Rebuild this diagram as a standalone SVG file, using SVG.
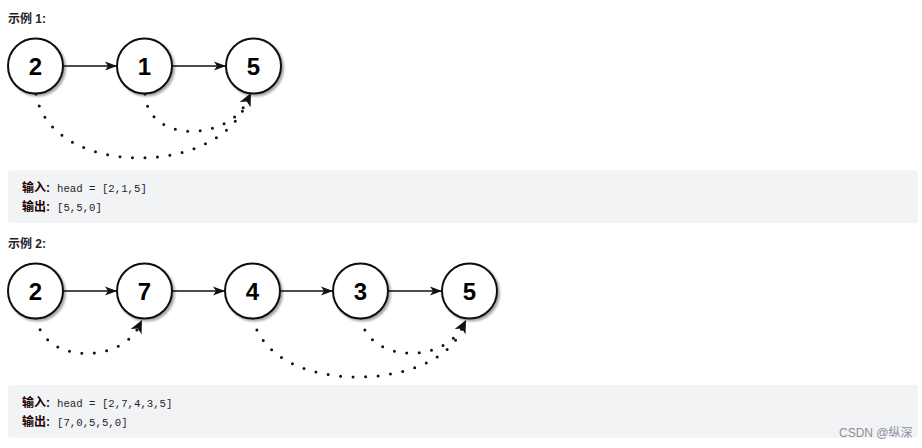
<svg xmlns="http://www.w3.org/2000/svg" width="922" height="448" viewBox="0 0 922 448">
<style>
.title{font-family:"Liberation Sans","Noto Sans CJK SC",sans-serif;font-size:12px;font-weight:bold;fill:#1f2329}
.node circle{fill:#fff;stroke:#111;stroke-width:2}
.node text{font-family:"Liberation Sans",Arial,sans-serif;font-size:24px;font-weight:bold;fill:#000;text-anchor:middle}
.link{stroke:#111;stroke-width:1.6;fill:none}
.dot{stroke:#111;stroke-width:3;fill:none;stroke-dasharray:0 12.5;stroke-linecap:round}
.box{fill:#f2f3f5}
.lbl{font-family:"Liberation Sans","Noto Sans CJK SC",sans-serif;font-size:12px;font-weight:bold;fill:#1a0000}
.code{font-family:"Liberation Mono","DejaVu Sans Mono",monospace;font-size:10.7px;fill:#1f2329}
.wm{font-family:"Liberation Sans","Noto Sans CJK SC",sans-serif;font-size:12px;fill:#8a8f99}
</style>
<defs>
<filter id="sh" x="-20%" y="-20%" width="150%" height="150%">
<feGaussianBlur in="SourceAlpha" stdDeviation="1.2"/>
<feOffset dx="2" dy="2" result="b"/>
<feComponentTransfer><feFuncA type="linear" slope="0.35"/></feComponentTransfer>
<feMerge><feMergeNode/><feMergeNode in="SourceGraphic"/></feMerge>
</filter>
<marker id="ah" markerUnits="userSpaceOnUse" markerWidth="12" markerHeight="10" refX="12" refY="5" orient="auto" viewBox="0 0 12 10">
<path d="M0,0.5 L12,5 L0,9.5 L3,5 z" fill="#111"/>
</marker>
<marker id="ah2" markerUnits="userSpaceOnUse" markerWidth="13" markerHeight="12" refX="13" refY="6" orient="auto" viewBox="0 0 13 12">
<path d="M0,0 L13,6 L0,12 L3.5,6 z" fill="#111"/>
</marker>
</defs>
<rect width="922" height="448" fill="#fff"/>
<text class="title" x="8" y="23">示例 1:</text>
<g id="connectors">
<line class="link" x1="63.5" y1="66" x2="117" y2="66" marker-end="url(#ah)"/>
<line class="link" x1="172" y1="66" x2="226" y2="66" marker-end="url(#ah)"/>
<path class="dot" d="M36,94 C50,178 220,178 247,101"/>
<path class="dot" d="M145,94 C148,145 230,140 247,101"/>
<path d="M247,101 L251,93" stroke="none" fill="none" marker-end="url(#ah2)"/>
<line class="link" x1="63.5" y1="291" x2="117" y2="291" marker-end="url(#ah)"/>
<line class="link" x1="172" y1="291" x2="225" y2="291" marker-end="url(#ah)"/>
<line class="link" x1="280" y1="291" x2="333" y2="291" marker-end="url(#ah)"/>
<line class="link" x1="388" y1="291" x2="442" y2="291" marker-end="url(#ah)"/>
<path class="dot" d="M36,318 C45,365 120,362 138,328"/>
<path d="M138,328 L142,320" stroke="none" fill="none" marker-end="url(#ah2)"/>
<path class="dot" d="M253,318 C270,398 440,392 462,328"/>
<path class="dot" d="M361,318 C368,362 440,364 462,328"/>
<path d="M462,328 L466,320" stroke="none" fill="none" marker-end="url(#ah2)"/>
</g>
<g id="n1-2" class="node"><circle cx="35.5" cy="66" r="27.5" filter="url(#sh)"/><text x="35.5" y="74.5">2</text></g>
<g id="n1-1" class="node"><circle cx="144.5" cy="66" r="27.5" filter="url(#sh)"/><text x="144.5" y="74.5">1</text></g>
<g id="n1-5" class="node"><circle cx="253.5" cy="66" r="27.5" filter="url(#sh)"/><text x="253.5" y="74.5">5</text></g>
<rect class="box" x="8" y="170" width="910" height="53" rx="4"/>
<text x="22" y="192"><tspan class="lbl">输入:</tspan><tspan class="code" x="57">head = [2,1,5]</tspan></text>
<text x="22" y="211"><tspan class="lbl">输出:</tspan><tspan class="code" x="57">[5,5,0]</tspan></text>
<text class="title" x="8" y="248">示例 2:</text>
<g id="n2-2" class="node"><circle cx="35.5" cy="291" r="27.5" filter="url(#sh)"/><text x="35.5" y="299.5">2</text></g>
<g id="n2-7" class="node"><circle cx="144.5" cy="291" r="27.5" filter="url(#sh)"/><text x="144.5" y="299.5">7</text></g>
<g id="n2-4" class="node"><circle cx="252.5" cy="291" r="27.5" filter="url(#sh)"/><text x="252.5" y="299.5">4</text></g>
<g id="n2-3" class="node"><circle cx="360.5" cy="291" r="27.5" filter="url(#sh)"/><text x="360.5" y="299.5">3</text></g>
<g id="n2-5" class="node"><circle cx="469.5" cy="291" r="27.5" filter="url(#sh)"/><text x="469.5" y="299.5">5</text></g>
<rect class="box" x="8" y="385" width="910" height="53" rx="4"/>
<text x="22" y="407"><tspan class="lbl">输入:</tspan><tspan class="code" x="57">head = [2,7,4,3,5]</tspan></text>
<text x="22" y="426"><tspan class="lbl">输出:</tspan><tspan class="code" x="57">[7,0,5,5,0]</tspan></text>
<text class="wm" x="839" y="437">CSDN @纵深</text>
</svg>
